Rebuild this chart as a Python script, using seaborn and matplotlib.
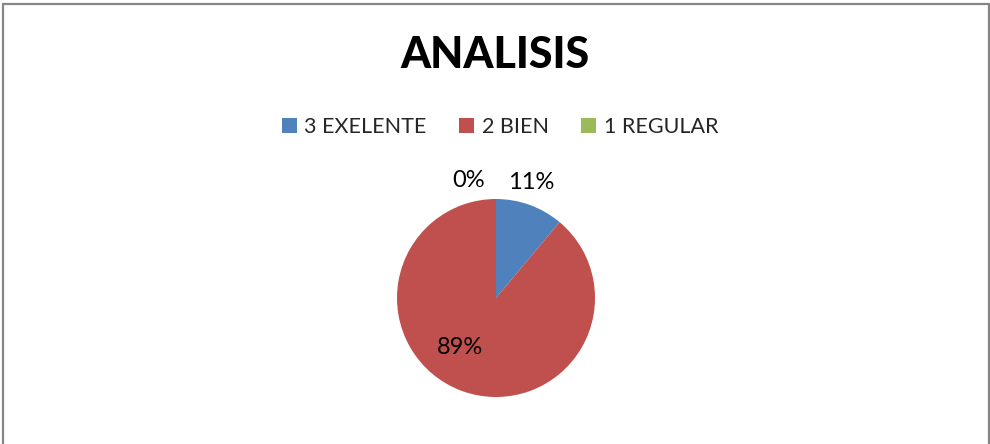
import numpy as np
import matplotlib
matplotlib.use("Agg")
import matplotlib.pyplot as plt
from matplotlib.patches import Rectangle, Patch
import seaborn as sns

# data
categories = ["3 EXELENTE", "2 BIEN", "1 REGULAR"]
counts = [1, 8, 0]
colors = ["#4F81BD", "#C0504D", "#9BBB59"]
title = "ANALISIS"

sns.set_theme(style="white")
plt.rcParams["font.family"] = ["Lato", "DejaVu Sans"]

W, H = 990, 444
fig = plt.figure(figsize=(W / 100, H / 100), dpi=100)
fig.patch.set_facecolor("white")

# pie axes: centre (496, 298), radius ~99 px
r = 99
cx, cy = 496, 298
ax = fig.add_axes([(cx - r) / W, (H - cy - r) / H, 2 * r / W, 2 * r / H])
wedges, _ = ax.pie(counts, colors=colors, startangle=90, counterclock=False,
                   wedgeprops=dict(linewidth=0))
ax.set_xlim(-1, 1)
ax.set_ylim(-1, 1)
ax.set_aspect("equal")
ax.axis("off")

# percentage labels, placed from each wedge's angle (best-fit like)
total = sum(counts)
dist = [1.22, 0.62, 1.22]
shift = [3, -16, 13]   # degrees, nudges to avoid overlap
for w, c, d, s in zip(wedges, counts, dist, shift):
    ang = np.deg2rad((w.theta1 + w.theta2) / 2 + s)
    ax.text(d * np.cos(ang), d * np.sin(ang), f"{round(100 * c / total)}%",
            ha="center", va="center", fontsize=17, color="black", clip_on=False)

fig.text(495 / W, 1 - 55 / H, title, ha="center", va="center",
         fontsize=31, fontweight="black", color="black")

handles = [Patch(facecolor=col, edgecolor="none") for col in colors]
fig.legend(handles, categories, loc="center", ncol=3,
           bbox_to_anchor=(500 / W, 1 - 127 / H), frameon=False,
           fontsize=15.5, handlelength=0.7, handleheight=0.7,
           handletextpad=0.35, columnspacing=1.5)

# outer chart frame (bottom edge falls outside the image)
fig.patches.append(Rectangle((2.5 / W, -0.1), (989 - 2.5) / W, 1.1 - 4.5 / H,
                             transform=fig.transFigure, fill=False,
                             edgecolor="#868686", linewidth=1.6))

fig.savefig("out.png", dpi=100)
